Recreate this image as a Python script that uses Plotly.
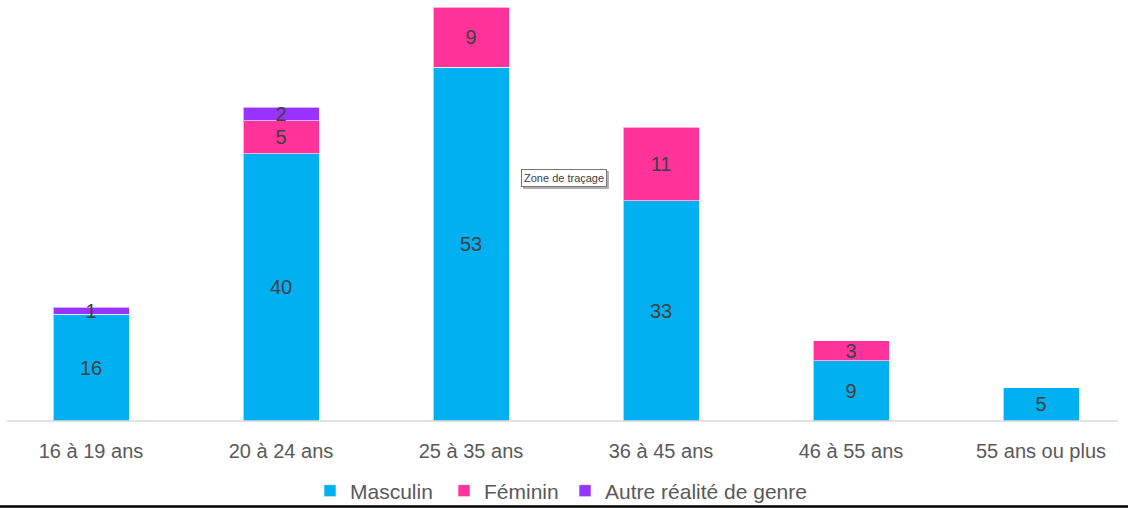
import plotly.graph_objects as go

categories = ["16 à 19 ans", "20 à 24 ans", "25 à 35 ans", "36 à 45 ans", "46 à 55 ans", "55 ans ou plus"]
masculin = [16, 40, 53, 33, 9, 5]
feminin = [None, 5, 9, 11, 3, None]
autre = [1, 2, None, None, None, None]

series = [
    ("Masculin", masculin, "#00B0F0"),
    ("Féminin", feminin, "#FF3399"),
    ("Autre réalité de genre", autre, "#9933FF"),
]

W, H = 1128, 512
K = 0.993  # vertical compression observed in capture
def fy(y):
    return y / K
plot_bottom = fy(421)
font_fam = "Liberation Sans Narrow, Liberation Sans, Arial, sans-serif"

legend_ids = ["legend", "legend2", "legend3"]
legend_x = [310, 444, 565]

fig = go.Figure()
for (name, vals, col), lid in zip(series, legend_ids):
    fig.add_trace(go.Bar(
        x=categories, y=vals, name=name, legend=lid, showlegend=True,
        marker=dict(color=col, line=dict(color="rgba(255,255,255,0.6)", width=1)),
        text=vals, texttemplate="%{text}", textposition="inside", textangle=0,
        insidetextanchor="middle", constraintext="none",
        textfont=dict(color="#404040", size=20, family=font_fam),
        cliponaxis=False,
    ))

px_per_cat = 190
start = -91 / px_per_cat
def py(target_y):
    return (plot_bottom - fy(target_y)) / plot_bottom

legend_style = dict(orientation="h", xanchor="left", y=py(491), yanchor="middle",
                    font=dict(size=21, color="#595959", family=font_fam),
                    bgcolor="rgba(0,0,0,0)", itemwidth=30)

fig.update_layout(
    width=W, height=H,
    showlegend=True,
    barmode="stack", bargap=0.6,
    margin=dict(l=0, r=0, t=0, b=H - plot_bottom),
    paper_bgcolor="white", plot_bgcolor="white",
    xaxis=dict(range=[start, start + W / px_per_cat], showgrid=False, showline=False,
               ticks="", ticklabelstandoff=16,
               tickfont=dict(size=20, color="#595959", family=font_fam)),
    yaxis=dict(range=[0, 63.05], visible=False),
    shapes=[
        dict(type="line", xref="paper", yref="paper", x0=7 / W, x1=1118 / W, y0=0, y1=0,
             line=dict(color="#D9D9D9", width=1.5)),
        dict(type="line", xref="paper", yref="paper", x0=0, x1=1, y0=py(506.5), y1=py(506.5),
             line=dict(color="black", width=2.5)),
    ],
    annotations=[
        dict(text="Zone de traçage", xref="paper", yref="paper", x=566 / W,
             y=py(180), showarrow=False,
             font=dict(size=11, color="rgba(0,0,0,0)", family="Liberation Sans, Arial"),
             bgcolor="#B0B0B0", bordercolor="#B0B0B0", borderwidth=1, borderpad=2),
        dict(text="Zone de traçage", xref="paper", yref="paper", x=564 / W,
             y=py(178), showarrow=False,
             font=dict(size=11, color="#404040", family="Liberation Sans, Arial"),
             bgcolor="white", bordercolor="#767676", borderwidth=1, borderpad=2),
    ],
)
for lid, lx in zip(legend_ids, legend_x):
    fig.update_layout({lid: dict(legend_style, x=lx / W)})

post = (
    "var d=document.documentElement,b=document.body;"
    "[d,b].forEach(function(e){e.style.margin='0';e.style.padding='0';"
    "e.style.overflow='hidden';});"
)

fig.write_html("out.html", config={"displayModeBar": False}, post_script=post)
